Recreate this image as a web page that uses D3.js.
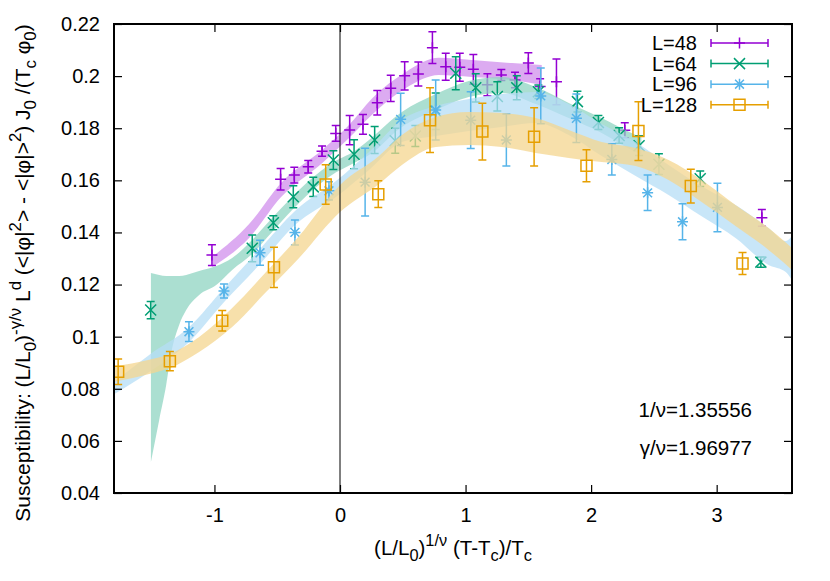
<!DOCTYPE html>
<html><head><meta charset="utf-8">
<script src="https://cdn.jsdelivr.net/npm/d3@7"></script>
<style>
html,body{margin:0;padding:0;background:#fff;}
svg text{font-family:"Liberation Sans",Arial,Helvetica,sans-serif;fill:#000;white-space:pre;}
</style></head><body>
<svg id="chart" width="830" height="581"></svg>
<script>
// ---------------- data ----------------
const xTicks=[-1,0,1,2,3];
const yTicks=[0.04,0.06,0.08,0.1,0.12,0.14,0.16,0.18,0.2,0.22];
const seriesNames=["L=48","L=64","L=96","L=128"];
const seriesColors=["#9400d3","#009e73","#56b4e9","#e69f00"];
const seriesMarkers=["plus","cross","star","square"];
const annotations=["1/ν=1.35556","γ/ν=1.96977"];

// L=48
const x48=[-1.02,-0.473,-0.364,-0.253,-0.143,-0.034,0.077,0.183,0.297,0.404,0.515,0.624,0.736,0.842,0.954,1.062,1.174,1.285,1.394,1.50,1.594,1.724,2.268,3.36];
const y48=[0.1313,0.1604,0.162,0.1652,0.1712,0.178,0.1793,0.1815,0.1898,0.1953,0.2001,0.2008,0.2109,0.2036,0.2034,0.2026,0.1967,0.2004,0.1985,0.205,0.196,0.1978,0.1792,0.1456];
const e48=[0.004,0.0041,0.003,0.0024,0.002,0.003,0.0056,0.0038,0.0047,0.005,0.0054,0.0046,0.0061,0.0052,0.0054,0.0057,0.0042,0.0021,0.003,0.004,0.003,0.0088,0.0029,0.0032];
// L=64
const x64=[-1.508,-0.699,-0.531,-0.372,-0.213,-0.053,0.112,0.276,0.44,0.60,0.762,0.922,1.081,1.253,1.408,1.58,1.891,2.058,2.223,2.382,2.54,2.869,3.352];
const y64=[0.1102,0.1339,0.1437,0.1537,0.1575,0.1678,0.170,0.1755,0.1752,0.177,0.1865,0.2011,0.1955,0.1922,0.1955,0.194,0.1902,0.1822,0.1772,0.1733,0.1662,0.1606,0.1286];
const e64=[0.0033,0.0051,0.0027,0.0042,0.0037,0.0036,0.0056,0.0052,0.0048,0.004,0.007,0.0063,0.0054,0.0056,0.0046,0.0026,0.004,0.0027,0.003,0.0038,0.004,0.003,0.002];
// L=96
const x96=[-1.203,-0.924,-0.637,-0.359,-0.088,0.2,0.483,0.762,1.041,1.325,1.599,1.883,2.165,2.45,2.728,3.006];
const y96=[0.1019,0.1175,0.1322,0.14,0.156,0.1593,0.1834,0.187,0.1831,0.1755,0.1924,0.1838,0.168,0.1552,0.1441,0.1496];
const e96=[0.0038,0.0027,0.0048,0.0048,0.0035,0.013,0.01,0.0115,0.0109,0.01,0.0107,0.0093,0.006,0.0068,0.0069,0.0093];
// L=128
const x128=[-1.767,-1.355,-0.938,-0.526,-0.114,0.305,0.717,1.134,1.546,1.963,2.377,2.794,3.206];
const y128=[0.0865,0.0906,0.1061,0.1266,0.1584,0.1547,0.1831,0.1787,0.1767,0.1656,0.1789,0.1578,0.1281];
const e128=[0.0049,0.0037,0.0039,0.0077,0.0076,0.0051,0.0124,0.0109,0.0112,0.0061,0.0113,0.0065,0.0042];

// scaling bands (x, lower edge, upper edge)
const bandX48=[-1.018,-0.724,-0.469,-0.143,0.072,0.255,0.525,0.788,1.05,1.37,1.607];
const bandLo48=[0.1267,0.1379,0.1536,0.1666,0.1762,0.1852,0.1954,0.2004,0.1997,0.1985,0.1966];
const bandHi48=[0.1306,0.1432,0.159,0.1716,0.1812,0.1914,0.2016,0.2070,0.2062,0.2050,0.2043];

const bandX64=[-1.506,-1.44,-1.384,-1.344,-1.281,-1.225,-1.122,-0.986,-0.859,-0.700,-0.541,-0.326,-0.088,0.127,0.231,0.493,0.764,1.026,1.289,1.559,1.822,2.084,2.355,2.40];
const bandLo64=[0.0519,0.068,0.0815,0.0937,0.1045,0.1102,0.116,0.1198,0.1256,0.1317,0.1402,0.1513,0.1613,0.1670,0.1697,0.1805,0.187,0.1920,0.1935,0.1893,0.1839,0.1782,0.1709,0.170];
const bandHi64=[0.1244,0.1237,0.1233,0.1233,0.1233,0.1237,0.1252,0.1271,0.1302,0.1371,0.1455,0.1563,0.1659,0.1716,0.1755,0.1862,0.1931,0.1981,0.1997,0.1958,0.1897,0.1839,0.1774,0.1765];

const bandX96=[-1.81,-1.52,-1.201,-0.923,-0.644,-0.35,-0.032,0.231,0.493,0.764,1.026,1.289,1.559,1.822,2.084,2.355,2.617,2.88,3.15,3.413,3.55,3.6];
const bandLo96=[0.0776,0.0864,0.0980,0.1133,0.1275,0.1432,0.1536,0.1640,0.1747,0.177,0.1789,0.1805,0.182,0.1774,0.1693,0.1617,0.1544,0.1462,0.1379,0.1275,0.1248,0.1217];
const bandHi96=[0.0822,0.0930,0.1037,0.1187,0.1333,0.1486,0.1597,0.1709,0.1832,0.1885,0.1912,0.1931,0.1939,0.1893,0.1816,0.1747,0.1659,0.1577,0.1505,0.1417,0.1367,0.1386];

const bandX128=[-1.81,-1.52,-1.353,-1.122,-0.859,-0.589,-0.326,0.0,0.31,0.493,0.764,1.026,1.289,1.559,1.822,2.084,2.355,2.617,2.88,3.15,3.413,3.6];
const bandLo128=[0.0826,0.0857,0.088,0.0941,0.1037,0.1171,0.1302,0.1478,0.1586,0.1659,0.1728,0.1736,0.1728,0.1705,0.1686,0.167,0.1655,0.1601,0.1517,0.1425,0.1333,0.1256];
const bandHi128=[0.0884,0.0911,0.0934,0.0999,0.111,0.1248,0.1386,0.1582,0.1693,0.1774,0.1843,0.1862,0.1858,0.1839,0.1793,0.1747,0.1724,0.1678,0.1601,0.1505,0.1417,0.134];

// ---------------- build ----------------
const series=[
  {xs:x48,ys:y48,es:e48,bx:bandX48,bl:bandLo48,bh:bandHi48},
  {xs:x64,ys:y64,es:e64,bx:bandX64,bl:bandLo64,bh:bandHi64},
  {xs:x96,ys:y96,es:e96,bx:bandX96,bl:bandLo96,bh:bandHi96},
  {xs:x128,ys:y128,es:e128,bx:bandX128,bl:bandLo128,bh:bandHi128}
];
const FS=20, TFS=21;
const svg=d3.select("#chart");
const L=114,R=792,T=24,B=493;
const x=d3.scaleLinear().domain([-1.8,3.6]).range([L,R]);
const y=d3.scaleLinear().domain([0.04,0.22]).range([B,T]);

svg.append("defs").append("clipPath").attr("id","clip")
  .append("rect").attr("x",L).attr("y",T).attr("width",R-L).attr("height",B-T);

const plot=svg.append("g").attr("clip-path","url(#clip)");

function markerPath(type,cx,cy){
  const p=d3.path();
  const s=5.5;
  if(type==="plus"||type==="star"){p.moveTo(cx-s,cy);p.lineTo(cx+s,cy);p.moveTo(cx,cy-s);p.lineTo(cx,cy+s);}
  if(type==="cross"||type==="star"){const d=type==="star"?s*0.8:s;p.moveTo(cx-d,cy-d);p.lineTo(cx+d,cy+d);p.moveTo(cx-d,cy+d);p.lineTo(cx+d,cy-d);}
  if(type==="square"){p.rect(cx-5.5,cy-5.5,11,11);}
  return p.toString();
}
function errPath(cx,y0,y1){
  const p=d3.path(),c=4;
  p.moveTo(cx,y0);p.lineTo(cx,y1);
  p.moveTo(cx-c,y0);p.lineTo(cx+c,y0);
  p.moveTo(cx-c,y1);p.lineTo(cx+c,y1);
  return p.toString();
}

const area=d3.area().x(d=>x(d.x)).y0(d=>y(d.lo)).y1(d=>y(d.hi)).curve(d3.curveMonotoneX);

series.forEach((s,i)=>{
  const col=seriesColors[i];
  const band=s.bx.map((v,j)=>({x:v,lo:s.bl[j],hi:s.bh[j]}));
  plot.append("path").datum(band).attr("d",area)
    .attr("fill",d3.interpolateRgb("#ffffff",col)(0.44)).attr("fill-opacity",0.75)
    .attr("stroke","none");
  const pts=s.xs.map((v,j)=>({x:v,y:s.ys[j],e:s.es[j]}));
  const g=plot.append("g");
  g.selectAll("path.err").data(pts).enter().append("path")
    .attr("d",d=>errPath(x(d.x),y(d.y-d.e),y(d.y+d.e)))
    .attr("fill","none").attr("stroke",col).attr("stroke-width",1.5);
  g.selectAll("path.mk").data(pts).enter().append("path")
    .attr("d",d=>markerPath(seriesMarkers[i],x(d.x),y(d.y)))
    .attr("fill","none").attr("stroke",col).attr("stroke-width",1.5);
});

// zero line
svg.append("line").attr("x1",x(0)).attr("x2",x(0)).attr("y1",T).attr("y2",B)
  .attr("stroke","#000").attr("stroke-width",1);

// axes
function styleAxis(g){
  g.select(".domain").remove();
  g.selectAll(".tick line").attr("stroke","#000").attr("stroke-width",1.2);
  g.selectAll(".tick text").attr("font-size",FS).attr("font-family","Liberation Sans, Arial, sans-serif").attr("fill","#000");
}
svg.append("g").attr("transform",`translate(0,${B})`)
  .call(d3.axisBottom(x).tickValues(xTicks).tickSize(-8).tickPadding(15).tickFormat(d=>String(d))).call(styleAxis);
svg.append("g").attr("transform",`translate(0,${T})`)
  .call(d3.axisTop(x).tickValues(xTicks).tickSize(-8).tickFormat("")).call(styleAxis);
svg.append("g").attr("transform",`translate(${L},0)`)
  .call(d3.axisLeft(y).tickValues(yTicks).tickSize(-8).tickPadding(14).tickFormat(d=>String(d))).call(styleAxis);
svg.append("g").attr("transform",`translate(${R},0)`)
  .call(d3.axisRight(y).tickValues(yTicks).tickSize(-8).tickFormat("")).call(styleAxis);

// frame
svg.append("rect").attr("x",L).attr("y",T).attr("width",R-L).attr("height",B-T)
  .attr("fill","none").attr("stroke","#000").attr("stroke-width",2);

// rich text helper
function rich(t,segs,fs){
  let shift=0;
  segs.forEach(([s,k])=>{
    const target=k==="sup"?-0.42*fs:(k==="sub"?0.28*fs:0);
    t.append("tspan").attr("dy",target-shift).attr("font-size",k?fs*0.8:fs).text(s);
    shift=target;
  });
}
const xt=svg.append("text").attr("x",(L+R)/2).attr("y",555).attr("text-anchor","middle").attr("font-size",20.5);
rich(xt,[["(L/L",""],["0","sub"],[")",""],["1/ν","sup"],[" (T-T",""],["c","sub"],[")/T",""],["c","sub"]],20.5);

const yt=svg.append("text").attr("transform","translate(30,273) rotate(-90)").attr("text-anchor","middle").attr("font-size",TFS);
rich(yt,[["Susceptibility: (L/L",""],["0","sub"],[")",""],["-γ/ν","sup"],[" L",""],["d","sup"],[" (<|φ|",""],["2","sup"],["> - <|φ|>",""],["2","sup"],[") J",""],["0","sub"],[" /(T",""],["c","sub"],[" φ",""],["0","sub"],[")",""]],TFS);

// annotations
annotations.forEach((a,i)=>{
  svg.append("text").attr("x",752).attr("y",417+i*37.5).attr("text-anchor","end").attr("font-size",20.5).text(a);
});

// legend
const lg=svg.append("g");
seriesNames.forEach((n,i)=>{
  const cy=43+i*20.6, col=seriesColors[i];
  lg.append("text").attr("x",697).attr("y",cy+7).attr("text-anchor","end").attr("font-size",FS).text(n);
  const p=d3.path();
  p.moveTo(711,cy);p.lineTo(768,cy);
  p.moveTo(711,cy-4);p.lineTo(711,cy+4);
  p.moveTo(768,cy-4);p.lineTo(768,cy+4);
  lg.append("path").attr("d",p.toString()).attr("stroke",col).attr("stroke-width",1.5).attr("fill","none");
  lg.append("path").attr("d",markerPath(seriesMarkers[i],739.5,cy)).attr("stroke",col).attr("stroke-width",1.5).attr("fill","none");
});
</script></body></html>
